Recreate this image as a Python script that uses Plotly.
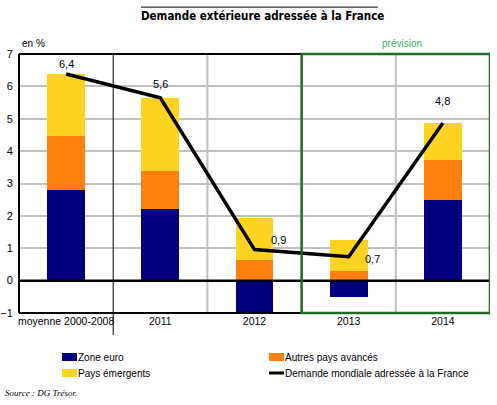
import plotly.graph_objects as go

categories = ["moyenne 2000-2008", "2011", "2012", "2013", "2014"]
zone_euro = [2.8, 2.2, -1.0, -0.52, 2.5]
autres_avances = [1.67, 1.18, 0.64, 0.31, 1.23]
pays_emergents = [1.91, 2.26, 1.29, 0.95, 1.13]
demande_mondiale = [6.38, 5.65, 0.96, 0.74, 4.87]
demande_labels = ["6,4", "5,6", "0,9", "0,7", "4,8"]
y_ticks = [-1, 0, 1, 2, 3, 4, 5, 6, 7]

NAVY = "#00007F"
ORANGE = "#FF7F0F"
YELLOW = "#FFD321"
GREEN = "#1F6B1F"
FONT = "Liberation Sans, Arial, sans-serif"
FS = 10

x = list(range(len(categories)))

fig = go.Figure()
fig.add_trace(go.Bar(x=x, y=zone_euro, marker=dict(color=NAVY, line=dict(width=0)), width=0.4, name="Zone euro"))
fig.add_trace(go.Bar(x=x, y=autres_avances, marker=dict(color=ORANGE, line=dict(width=0)), width=0.4, name="Autres pays avancés"))
fig.add_trace(go.Bar(x=x, y=pays_emergents, marker=dict(color=YELLOW, line=dict(width=0)), width=0.4, name="Pays émergents"))
fig.add_trace(go.Scatter(x=x, y=demande_mondiale, mode="lines", line=dict(color="black", width=3.5),
                         name="Demande mondiale adressée à la France", cliponaxis=False, hoverinfo="skip"))

# data label offsets (pixels) relative to the line points
label_shift = [(0, 10), (0, 14), (24, 10), (24, -2), (0, 22)]
for i, (lab, v) in enumerate(zip(demande_labels, demande_mondiale)):
    dx, dy = label_shift[i]
    fig.add_annotation(x=i, y=v, text=lab, showarrow=False, xshift=dx, yshift=dy,
                       font=dict(family=FONT, size=FS + 1, color="black"))

shapes = []
# vertical category separators
shapes.append(dict(type="line", xref="x", yref="paper", x0=0.5, x1=0.5, y0=-0.085, y1=1,
                   line=dict(color="black", width=1)))
for b in [1.5, 3.5]:
    shapes.append(dict(type="line", xref="x", yref="paper", x0=b, x1=b, y0=0, y1=1,
                       line=dict(color="#C0C0C0", width=2), layer="below"))
# plot border (black) left, top, bottom
shapes.append(dict(type="line", xref="paper", yref="paper", x0=0, x1=0, y0=0, y1=1, line=dict(color="black", width=2)))
shapes.append(dict(type="line", xref="paper", yref="paper", x0=0, x1=1, y0=0, y1=0, line=dict(color="black", width=2)))
shapes.append(dict(type="line", xref="paper", yref="paper", x0=0, x1=0.6, y0=1, y1=1, line=dict(color="black", width=2)))
# zero line
shapes.append(dict(type="line", xref="paper", yref="y", x0=0, x1=1, y0=0, y1=0, line=dict(color="black", width=2.5)))
# forecast box
shapes.append(dict(type="rect", xref="x", yref="paper", x0=2.5, x1=4.5, y0=0, y1=1,
                   line=dict(color=GREEN, width=2.5)))
# title overline
shapes.append(dict(type="line", xref="paper", yref="paper", x0=0.259, x1=0.762, y0=1.181, y1=1.181,
                   line=dict(color="black", width=1)))

def px2paper_y(py):
    return 1 + (54 - py) / 259.0

def px2paper_x(px):
    return (px - 19) / 471.0

# manual legend
legend_items = [
    ("Zone euro", NAVY, 62, 357, "bar"),
    ("Autres pays avancés", ORANGE, 269, 357, "bar"),
    ("Pays émergents", YELLOW, 62, 373, "bar"),
    ("Demande mondiale adressée à la France", "black", 269, 373, "line"),
]
annotations = []
for name, col, lx, ly, kind in legend_items:
    if kind == "bar":
        shapes.append(dict(type="rect", xref="paper", yref="paper",
                           x0=px2paper_x(lx), x1=px2paper_x(lx + 15),
                           y0=px2paper_y(ly + 4), y1=px2paper_y(ly - 4),
                           fillcolor=col, line=dict(width=0)))
    else:
        shapes.append(dict(type="line", xref="paper", yref="paper",
                           x0=px2paper_x(lx), x1=px2paper_x(lx + 15),
                           y0=px2paper_y(ly), y1=px2paper_y(ly),
                           line=dict(color=col, width=3)))
    annotations.append(dict(xref="paper", yref="paper", x=px2paper_x(lx + 14), y=px2paper_y(ly),
                            text=name, showarrow=False, xanchor="left", yanchor="middle",
                            font=dict(family=FONT, size=FS, color="black")))

annotations.append(dict(xref="paper", yref="paper", x=px2paper_x(20), y=px2paper_y(43),
                        text="en %", showarrow=False, xanchor="left", yanchor="middle",
                        font=dict(family=FONT, size=FS, color="black")))
annotations.append(dict(xref="paper", yref="paper", x=px2paper_x(402), y=px2paper_y(43),
                        text="prévision", showarrow=False, xanchor="center", yanchor="middle",
                        font=dict(family=FONT, size=FS, color="#3CAE5A")))
annotations.append(dict(xref="paper", yref="paper", x=px2paper_x(3), y=px2paper_y(393),
                        text="<i>Source : DG Trésor.</i>", showarrow=False, xanchor="left", yanchor="middle",
                        font=dict(family="Liberation Serif, serif", size=9, color="black")))
annotations.append(dict(xref="paper", yref="paper", x=px2paper_x(262), y=px2paper_y(16),
                        text="<b>Demande extérieure adressée à la France</b>", showarrow=False,
                        xanchor="center", yanchor="middle",
                        font=dict(family="DejaVu Sans Condensed, Liberation Sans Narrow, sans-serif", size=11.5, color="black")))

for a in annotations:
    fig.add_annotation(**a)

fig.update_layout(
    width=497, height=405,
    margin=dict(l=19, r=7, t=54, b=92, autoexpand=False),
    barmode="relative",
    bargap=0,
    showlegend=False,
    hovermode=False,
    plot_bgcolor="white",
    paper_bgcolor="white",
    font=dict(family=FONT, size=FS, color="black"),
    shapes=shapes,
    xaxis=dict(range=[-0.5, 4.5], tickvals=x, ticktext=categories, showgrid=False, zeroline=False,
               showline=False, ticks="", automargin=False,
               tickfont=dict(family=FONT, size=FS + 0.5, color="black")),
    yaxis=dict(range=[-1, 7], tickvals=y_ticks, showgrid=True, gridcolor="#C0C0C0", gridwidth=2,
               zeroline=False, showline=False, ticks="outside", ticklen=3, tickcolor="rgba(0,0,0,0)",
               automargin=False, tickfont=dict(family=FONT, size=FS + 1, color="black")),
)

fig.write_html("out.html", config={"displayModeBar": False, "staticPlot": True},
               post_script="document.body.style.margin='0';document.body.style.overflow='hidden';")
